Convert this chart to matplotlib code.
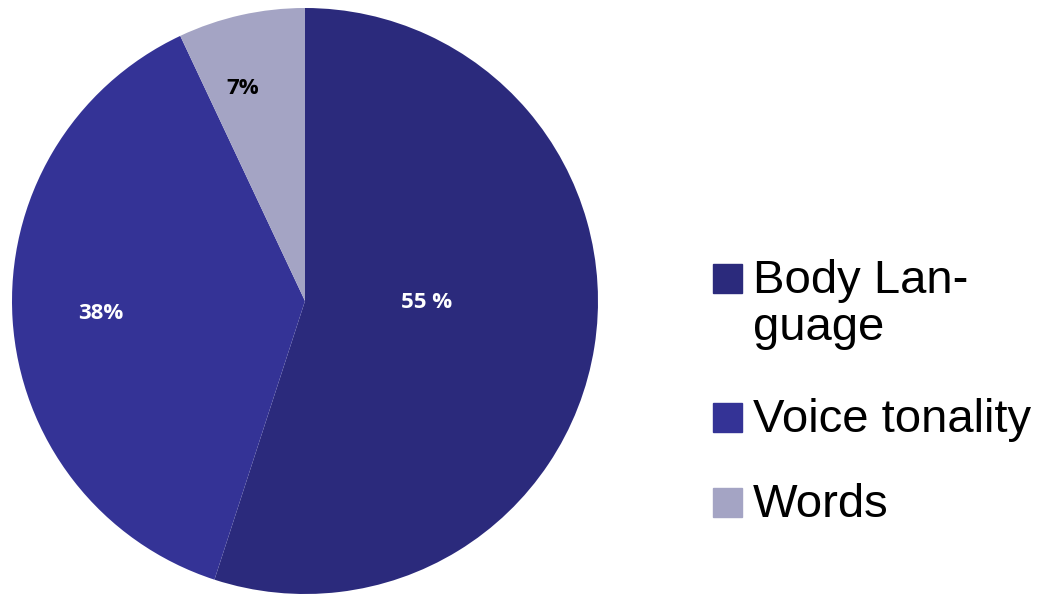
import numpy as np
import matplotlib.pyplot as plt
from matplotlib.patches import Rectangle

# data
labels = ['Body Lan-\nguage', 'Voice tonality', 'Words']
values = [55, 38, 7]
pct_text = ['55 %', '38%', '7%']
colors = ['#2b2a7c', '#343396', '#a4a4c4']
text_colors = ['white', 'white', 'black']
# label placement (radius fraction, angle offset in degrees from wedge middle)
label_r = [0.415, 0.70, 0.757]
label_dang = [8.5, 0.0, 3.6]

fig = plt.figure(figsize=(10.38, 5.94), dpi=100)
# pie axes: center ~ (305, 301) px, radius ~ 293 px
ax = fig.add_axes([12 / 1038, 0, 586 / 1038, 586 / 594])
wedges, _ = ax.pie(values, colors=colors, startangle=90, counterclock=False,
                   radius=1.0, wedgeprops=dict(linewidth=0))
ax.set_xlim(-1, 1)
ax.set_ylim(-1, 1)
ax.set_aspect('equal')
ax.axis('off')

# percentage labels
for w, txt, tc, r, da in zip(wedges, pct_text, text_colors, label_r, label_dang):
    mid = np.deg2rad((w.theta1 + w.theta2) / 2 + da)
    ax.text(r * np.cos(mid), r * np.sin(mid), txt, color=tc,
            ha='center', va='center', fontsize=16, fontweight='bold',
            family='Open Sans')

# legend drawn by hand
legend_y = [293, 432, 517]  # baselines of first lines (px from top)
for lab, col, yb in zip(labels, colors, legend_y):
    y0 = 1 - yb / 594
    fig.patches.append(Rectangle((713 / 1038, y0), 29 / 1038, 29 / 594,
                                 transform=fig.transFigure, color=col))
    first, *rest = lab.split('\n')
    fig.text(753 / 1038, y0, first, fontsize=34, family='Liberation Sans',
             va='baseline', ha='left')
    for i, line in enumerate(rest, 1):
        fig.text(753 / 1038, 1 - (yb + 47 * i) / 594, line, fontsize=34,
                 family='Liberation Sans', va='baseline', ha='left')

fig.savefig('out.png', dpi=100)
